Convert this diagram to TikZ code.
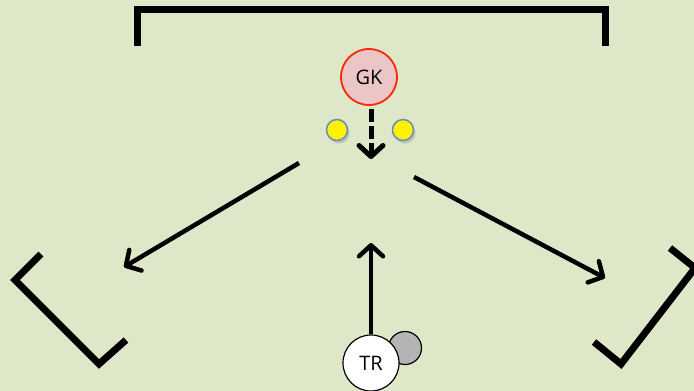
\documentclass[tikz,border=0pt]{standalone}
\usepackage{fontspec}
\setmainfont{Open Sans}
\usetikzlibrary{arrows.meta,shadows}
\definecolor{pitch}{RGB}{223,231,201}
\definecolor{gkfill}{RGB}{236,198,198}
\definecolor{gkline}{RGB}{250,40,10}
\definecolor{ballline}{RGB}{105,140,190}
\definecolor{cone}{RGB}{180,180,180}
\tikzset{
  goalline/.style={line width=7pt, line join=miter},
  run/.style={line width=4.5pt, -{Straight Barb[length=11pt,width=24pt,round]}},
  player/.style={circle, minimum size=56pt, inner sep=0pt, font=\fontsize{20}{20}\selectfont},
  ball/.style={circle, minimum size=21pt, inner sep=0pt, fill=yellow, draw=ballline, line width=1.5pt,
    drop shadow={shadow xshift=2pt, shadow yshift=-3pt, opacity=0.35}},
}
\begin{document}
\begin{tikzpicture}[x=1pt,y=-1pt]
  \fill[pitch] (0,0) rectangle (694,391);
  \useasboundingbox (0,0) rectangle (694,391);
  % goals
  \draw[goalline] (137,46) -- (137,9) -- (605,9) -- (605,46);
  \draw[goalline] (41,254) -- (15,280) -- (99,364) -- (126,340);
  \draw[goalline] (670,248) -- (695,268) -- (621,364) -- (594,342);
  % players and balls
  \node[player, fill=gkfill, draw=gkline, line width=1.8pt] (gk) at (369,77) {GK};
  \node[ball] (b1) at (337,130) {};
  \node[ball] (b2) at (403,130) {};
  \node[player, fill=cone, draw=black, line width=1.2pt, minimum size=33pt] (cone) at (405,348) {};
  \node[player, fill=white, draw=black, line width=1.2pt] (tr) at (371,363) {TR};
  % runs
  \coordinate (dstart) at (371,109);
  \coordinate (dend) at (371,159);
  \coordinate (lstart) at (299,163);
  \coordinate (lend) at (124,267);
  \coordinate (rstart) at (414,177);
  \coordinate (rend) at (605,278);
  \coordinate (uend) at (371,243);
  \draw[run, line width=5pt, dash pattern=on 13pt off 4pt] (dstart) -- (dend);
  \draw[run] (lstart) -- (lend);
  \draw[run] (rstart) -- (rend);
  \draw[run] (tr.north) -- (uend);
\end{tikzpicture}
\end{document}
